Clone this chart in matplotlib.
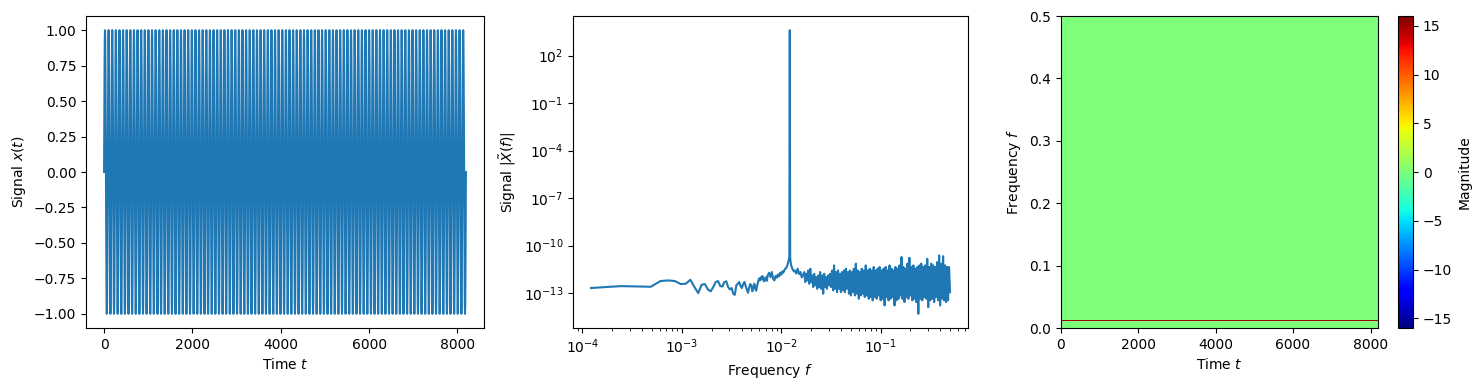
import numpy as np
import matplotlib
matplotlib.use("Agg")
import matplotlib.pyplot as plt

# ---------------- data ----------------
N_SAMPLES = 8192
N_CYCLES = 100                      # counted stripes / peak position
# one period of the signal (16 samples)
cycle_values = [0.0, 0.383, 0.707, 0.924, 1.0, 0.924, 0.707, 0.383,
                0.0, -0.383, -0.707, -0.924, -1.0, -0.924, -0.707, -0.383]

# spectrum: FFT bin indices (k / N = frequency) and log10 magnitudes
low_bins = list(range(1, 61)) + [62, 64, 66, 68, 70, 72, 74, 76, 78, 80, 82, 84,
                                 86, 88, 90, 92, 94, 95, 96, 97, 98, 99, 100,
                                 101, 102, 103, 104, 105, 107, 110, 113, 116,
                                 120, 124, 128, 132, 136]
low_log10 = [-12.68, -12.56, -12.58, -12.60, -12.24, -12.20, -12.24, -12.43, -12.41, -12.16,
             -12.62, -13.00, -12.47, -12.43, -12.77, -12.89, -12.62, -12.30, -12.24, -12.56,
             -12.58, -12.30, -12.26, -12.62, -12.77, -12.68, -13.04, -13.11, -12.51, -12.41,
             -12.30, -12.56, -12.68, -12.43, -12.30, -12.56, -12.77, -12.98, -12.68, -12.43,
             -12.51, -12.89, -12.62, -12.41, -12.73, -12.85, -12.51, -12.30, -12.09, -12.20,
             -12.00, -12.14, -11.92, -12.09, -12.26, -12.05, -12.20, -11.99, -12.22, -11.88,
             -11.71, -11.99, -11.67, -12.09, -12.20, -11.92, -12.03, -11.82, -11.95, -11.71,
             -11.84, -11.63, -11.71, -11.57, -11.46, -11.42, -11.29, -11.21, -11.08, -10.98,
             -10.87, -10.72, 3.61, -10.77, -11.04, -11.21, -11.29, -11.38, -11.50, -11.63,
             -11.57, -11.76, -11.46, -11.80, -11.67, -12.01, -11.84]

dense_k_start, dense_k_end = 140, 4096
dense_log10 = [-11.67, -12.30, -11.78, -12.20, -11.57, -12.41, -11.46, -12.30, -11.88, -12.62,
               -11.78, -12.51, -11.99, -12.73, -11.88, -12.62, -11.67, -12.73, -11.88, -13.04,
               -11.78, -12.62, -11.99, -12.73, -11.88, -12.51, -11.78, -12.62, -11.57, -12.83,
               -11.25, -12.73, -11.67, -12.94, -11.57, -12.73, -11.78, -12.94, -11.67, -12.83,
               -11.57, -12.94, -11.46, -12.73, -11.67, -13.04, -11.57, -13.15, -11.67, -12.94,
               -11.46, -13.15, -11.14, -13.04, -11.57, -13.36, -11.67, -13.15, -11.46, -13.04,
               -11.57, -13.25, -11.25, -13.15, -11.57, -13.36, -11.46, -13.25, -11.57, -13.46,
               -11.35, -13.25, -11.57, -13.36, -11.46, -13.15, -11.35, -13.46, -11.57, -13.36,
               -11.46, -13.78, -11.35, -13.25, -11.57, -13.46, -11.25, -13.36, -11.46, -13.25,
               -11.57, -13.78, -11.35, -13.46, -11.46, -13.36, -11.25, -13.15, -10.72, -13.36,
               -11.35, -13.57, -11.46, -13.25, -11.14, -13.36, -10.77, -13.15, -11.35, -13.46,
               -11.25, -13.36, -11.46, -13.57, -11.35, -14.31, -11.25, -13.36, -11.14, -13.46,
               -11.35, -13.25, -11.25, -13.36, -10.83, -13.89, -11.35, -13.46, -11.14, -13.36,
               -11.25, -13.57, -11.35, -13.25, -11.04, -13.46, -10.62, -13.78, -11.14, -13.36,
               -10.67, -13.46, -11.25, -13.57, -11.35, -13.46, -11.35, -12.94]

# time-frequency map: frequency edges and values of each band (constant in time)
tf_time_edges = [0, 8192]
tf_freq_edges = [0.0, 0.0112, 0.0120, 0.0128, 0.5]
tf_band_values = [0.0, -15.0, 15.0, 0.0]
tf_vmin, tf_vmax = -16, 16

# ---------------- build series ----------------
sig = np.concatenate([np.tile(cycle_values, N_CYCLES), [cycle_values[0]]])
t = np.linspace(0, N_SAMPLES - 1, len(sig))

dense_bins = np.unique(np.round(np.geomspace(dense_k_start, dense_k_end,
                                             len(dense_log10))).astype(int))
bins = np.concatenate([low_bins, dense_bins])
freqs = bins / N_SAMPLES
mags = 10.0 ** np.concatenate([low_log10, dense_log10[:len(dense_bins)]])

# ---------------- figure ----------------
W, H = 1481, 390
fig = plt.figure(figsize=(W / 100, H / 100), dpi=100)

def rect(l, r, top, bot):
    return [l / W, 1 - bot / H, (r - l) / W, (bot - top) / H]

ax1 = fig.add_axes(rect(86, 484, 16, 328))
ax2 = fig.add_axes(rect(573, 968, 16, 328))
ax3 = fig.add_axes(rect(1060.5, 1378, 16, 328))
cax = fig.add_axes(rect(1398, 1413, 16, 328))

ax1.plot(t, sig, color="#1f77b4")
ax1.set_xlabel("Time $t$")
ax1.set_ylabel("Signal $x(t)$")

ax2.loglog(freqs, mags, color="#1f77b4")
ax2.set_xlabel("Frequency $f$")
ax2.set_ylabel(r"Signal $|\tilde{X}(f)|$")

Z = np.array(tf_band_values).reshape(-1, 1)
mesh = ax3.pcolormesh(tf_time_edges, tf_freq_edges, Z, cmap="jet",
                      vmin=tf_vmin, vmax=tf_vmax, shading="flat",
                      antialiased=True)
ax3.set_xlim(0, 8192)
ax3.set_ylim(0, 0.5)
ax3.set_xlabel("Time $t$")
ax3.set_ylabel("Frequency $f$")
cb = fig.colorbar(mesh, cax=cax)
cb.set_label("Magnitude")

fig.savefig("out.png", dpi=100)
